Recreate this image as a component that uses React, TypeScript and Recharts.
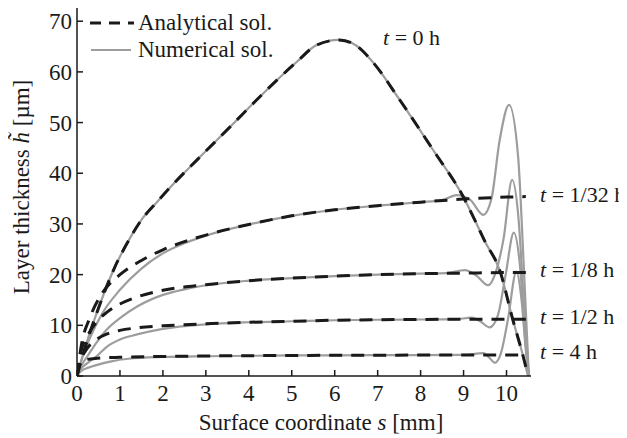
import React from "react";
import { LineChart, Line, XAxis, YAxis } from "recharts";

// s [mm] ticks and h [um] ticks
const sTicks = [0, 1, 2, 3, 4, 5, 6, 7, 8, 9, 10];
const hTicks = [0, 10, 20, 30, 40, 50, 60, 70];

// t = 0 h (analytical and numerical coincide)
const profileT0 = [
    [0, 0], [0.08, 2.5], [0.27, 7.8], [0.54, 14.3], [0.85, 20.9], [1.24, 27.3], [1.5, 30.8],
    [1.86, 34.3], [2.2, 37.5], [2.79, 42.6], [3.57, 49.2], [4.34, 55.8], [5.12, 62], [5.58, 65.3],
    [6.1, 66.3], [6.5, 65.2], [6.9, 61.8], [7.52, 54.4], [8.29, 44.6], [8.99, 35.4], [9.22, 31.5],
    [9.5, 26.5], [9.84, 20.9], [10.15, 11], [10.39, 3.8], [10.5, 0],
];

// analytical solutions
const analyticT32 = [
    [0, 0], [0.1, 6], [0.3, 11.5], [0.6, 16.5], [1.0, 20], [1.5, 22.8], [2, 24.9], [2.5, 26.5],
    [3, 27.8], [4, 29.9], [5, 31.6], [6, 32.8], [7, 33.6], [8, 34.3], [9, 34.9], [10, 35.3], [10.45, 35.4],
];
const analyticT8 = [
    [0, 0], [0.1, 5], [0.25, 8], [0.47, 10.8], [0.7, 12.6], [1.0, 14.2], [1.4, 15.6], [2, 16.9],
    [3, 18], [4, 18.8], [5, 19.3], [6, 19.7], [7, 20], [8, 20.2], [9, 20.3], [10, 20.4], [10.45, 20.4],
];
const analyticT2 = [
    [0, 0], [0.08, 3], [0.2, 5], [0.47, 7.3], [0.7, 8.3], [1.0, 9], [1.4, 9.5], [2, 9.9],
    [3, 10.3], [4, 10.6], [5, 10.8], [6, 11], [7, 11.1], [8, 11.15], [9, 11.2], [10, 11.2], [10.45, 11.2],
];
const analyticT4 = [
    [0, 0], [0.08, 2.8], [0.2, 3.2], [0.47, 3.5], [1, 3.7], [2, 3.85], [3, 3.95], [5, 4.05],
    [7, 4.1], [9, 4.15], [10.45, 4.15],
];

// numerical solutions
const numericT32 = [
    [0, 0], [0.1, 3], [0.3, 7.5], [0.6, 12.5], [1.0, 17], [1.5, 21.2], [2, 24.2], [2.5, 26.2],
    [3, 27.7], [4, 29.9], [5, 31.6], [6, 32.8], [7, 33.6], [8, 34.3], [8.5, 34.7], [8.84, 35.7],
    [9.15, 34.8], [9.46, 31.8], [9.65, 35], [9.84, 46.5], [10.06, 53.5], [10.27, 43.3], [10.4, 22], [10.52, 0],
];
const numericT8 = [
    [0, 0], [0.1, 2], [0.25, 4], [0.47, 6.8], [0.7, 9.2], [1.0, 11.4], [1.4, 13.7], [2, 16],
    [2.5, 17.1], [3, 17.9], [4, 18.8], [5, 19.3], [6, 19.7], [7, 20], [8, 20.2], [8.6, 20.3],
    [9.03, 20.9], [9.3, 19.8], [9.57, 17.9], [9.75, 20.5], [9.93, 27], [10.13, 38.7], [10.28, 31],
    [10.4, 15], [10.52, 0],
];
const numericT2 = [
    [0, 0], [0.1, 1.5], [0.25, 2.6], [0.47, 4], [0.7, 5.8], [1.0, 7.2], [1.4, 8.2], [2, 9.3],
    [3, 10.2], [4, 10.6], [5, 10.8], [6, 11], [7, 11.1], [8, 11.15], [8.8, 11.2], [9.19, 11.5],
    [9.4, 10.7], [9.61, 9.6], [9.8, 12], [9.98, 20], [10.17, 28.3], [10.31, 22], [10.43, 8], [10.52, 0],
];
const numericT4 = [
    [0, 0], [0.1, 1], [0.25, 1.6], [0.47, 2.2], [0.8, 2.9], [1.2, 3.4], [2, 3.75], [3, 3.9],
    [5, 4.05], [7, 4.1], [9, 4.15], [9.46, 4.5], [9.6, 3.6], [9.73, 2.6], [9.87, 4.5], [10.03, 11],
    [10.23, 20.6], [10.35, 15], [10.45, 5], [10.52, 0],
];

const numericalSeries = [profileT0, numericT32, numericT8, numericT2, numericT4];
const analyticalSeries = [profileT0, analyticT32, analyticT8, analyticT2, analyticT4];

const curveLabels = [
    { t: "0", x: 383, y: 45 },
    { t: "1/32", x: 540, y: 202 },
    { t: "1/8", x: 540, y: 277 },
    { t: "1/2", x: 540, y: 324 },
    { t: "4", x: 540, y: 359 },
];

const toPoints = (pts: number[][]) => pts.map(([s, h]) => ({ s, h }));

const FONT = "'Liberation Serif', 'Times New Roman', serif";
const AXIS = "#1a1a1a";
const GRAY = "#9d9d9d";
const DARK = "#1a1a1a";
const tickStyle = { fontFamily: FONT, fontSize: 23, fill: "#1a1a1a" };

export default function App() {
    return (
        <div style={{ position: "relative", width: 627, height: 438, marginTop: -8, marginLeft: -8, background: "#fff" }}>
            <LineChart width={627} height={438} margin={{ top: 6, right: 96, bottom: 32, left: 27 }}>
                <XAxis
                    dataKey="s"
                    type="number"
                    domain={[0, 10.57]}
                    ticks={sTicks}
                    allowDataOverflow
                    height={30}
                    tickSize={-6}
                    tickMargin={15}
                    tick={tickStyle}
                    stroke={AXIS}
                    strokeWidth={1.5}
                />
                <XAxis
                    xAxisId="top"
                    orientation="top"
                    type="number"
                    domain={[0, 10.57]}
                    ticks={sTicks}
                    height={0}
                    tickSize={-6}
                    tick={false}
                    stroke={AXIS}
                    strokeWidth={1.5}
                />
                <YAxis
                    type="number"
                    domain={[0, 73]}
                    ticks={hTicks}
                    allowDataOverflow
                    width={50}
                    tickSize={-6}
                    tickMargin={11}
                    tick={tickStyle}
                    stroke={AXIS}
                    strokeWidth={1.5}
                />
                <YAxis
                    yAxisId="right"
                    orientation="right"
                    type="number"
                    domain={[0, 73]}
                    ticks={hTicks}
                    width={0}
                    tickSize={-6}
                    tick={false}
                    stroke={AXIS}
                    strokeWidth={1.5}
                />
                {numericalSeries.map((d, i) => (
                    <Line
                        key={"num" + i}
                        data={toPoints(d)}
                        dataKey="h"
                        type="monotone"
                        stroke={GRAY}
                        strokeWidth={2.2}
                        dot={false}
                        activeDot={false}
                        isAnimationActive={false}
                    />
                ))}
                {analyticalSeries.map((d, i) => (
                    <Line
                        key={"ana" + i}
                        data={toPoints(d)}
                        dataKey="h"
                        type="monotone"
                        stroke={DARK}
                        strokeWidth={3}
                        strokeDasharray="13 9"
                        dot={false}
                        activeDot={false}
                        isAnimationActive={false}
                    />
                ))}
            </LineChart>
            <svg
                width={627}
                height={438}
                style={{ position: "absolute", left: 0, top: 0, pointerEvents: "none" }}
                fontFamily={FONT}
                fontSize={23}
                fill="#1a1a1a"
            >
                {/* legend */}
                <line x1={90} y1={23} x2={134} y2={23} stroke={DARK} strokeWidth={3} strokeDasharray="11 8" />
                <text x={138} y={30}>Analytical sol.</text>
                <line x1={91} y1={50} x2={131} y2={50} stroke={GRAY} strokeWidth={2.2} />
                <text x={138} y={57}>Numerical sol.</text>

                {curveLabels.map((c) => (
                    <text key={c.t} x={c.x} y={c.y} fontSize={22}>
                        <tspan fontStyle="italic">t</tspan> = {c.t} h
                    </text>
                ))}

                <text x={321} y={430} textAnchor="middle">
                    Surface coordinate <tspan fontStyle="italic">s</tspan> [mm]
                </text>
                <text transform="translate(21,187) rotate(-90)" textAnchor="middle" dominantBaseline="central">
                    Layer thickness <tspan fontStyle="italic">h&#x0303;</tspan> [µm]
                </text>
            </svg>
        </div>
    );
}
